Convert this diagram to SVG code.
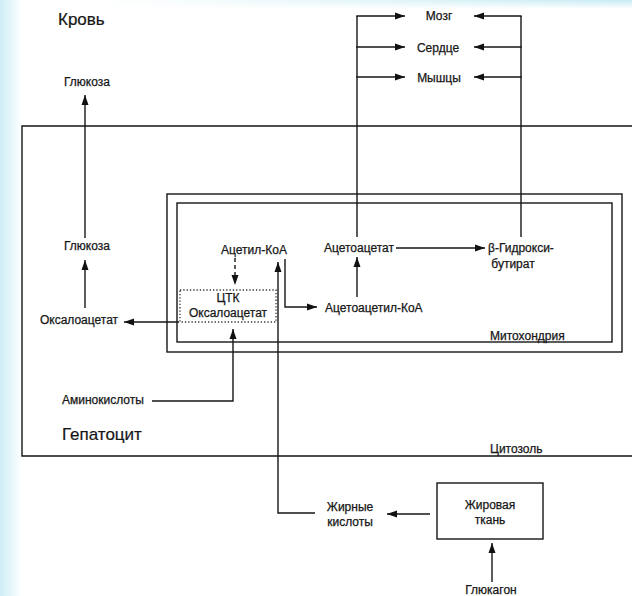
<svg xmlns="http://www.w3.org/2000/svg" width="632" height="596" viewBox="0 0 632 596">
<defs>
<linearGradient id="gl" x1="0" y1="0" x2="1" y2="0">
<stop offset="0" stop-color="#cdeef5"/>
<stop offset="1" stop-color="#ffffff"/>
</linearGradient>
<linearGradient id="gt" x1="0" y1="0" x2="1" y2="0">
<stop offset="0" stop-color="#ffffff"/>
<stop offset="1" stop-color="#c6ebf3"/>
</linearGradient>
<linearGradient id="gtv" x1="0" y1="0" x2="0" y2="1">
<stop offset="0" stop-color="#ffffff" stop-opacity="0"/>
<stop offset="1" stop-color="#ffffff"/>
</linearGradient>
<marker id="ah" markerUnits="userSpaceOnUse" markerWidth="10" markerHeight="8" refX="10" refY="4" orient="auto">
<path d="M0,0.5 L10,4 L0,7.5 z" fill="#111"/>
</marker>
<style>
.t{font-family:"Liberation Sans",Arial,sans-serif;font-size:12px;fill:#161616;stroke:#161616;stroke-width:0.25;}
.c{text-anchor:middle;}
.big{font-size:17px;stroke-width:0.2;}
.ln{fill:none;stroke:#161616;stroke-width:1.4;}
.ar{fill:none;stroke:#161616;stroke-width:1.4;marker-end:url(#ah);}
</style>
</defs>
<rect x="0" y="0" width="632" height="596" fill="#ffffff"/>
<rect x="0" y="0" width="22" height="596" fill="url(#gl)"/>
<rect x="100" y="0" width="532" height="9" fill="url(#gt)"/>
<rect x="100" y="0" width="532" height="9" fill="url(#gtv)"/>

<g id="hepatocyte">
<path class="ln" d="M632 126 H22 V456 H632"/>
<text class="t big" x="62" y="440">Гепатоцит</text>
<text class="t" x="490" y="453">Цитозоль</text>
</g>
<g id="mitochondrion">
<rect class="ln" x="167" y="194" width="455" height="158"/>
<rect class="ln" x="177" y="203" width="435" height="139"/>
<text class="t" x="490" y="340">Митохондрия</text>
</g>
<g id="blood">
<text class="t big" x="58" y="25">Кровь</text>
</g>
<g id="brain"><text class="t c" x="439" y="20">Мозг</text></g>
<g id="heart"><text class="t c" x="438" y="52">Сердце</text></g>
<g id="muscle"><text class="t c" x="439" y="82">Мышцы</text></g>
<g id="glucose-blood"><text class="t c" x="87" y="86">Глюкоза</text></g>
<g id="glucose-cell"><text class="t c" x="87" y="250">Глюкоза</text></g>
<g id="oxaloacetate-cyto"><text class="t c" x="79" y="324">Оксалоацетат</text></g>
<g id="tca">
<rect x="180" y="290" width="96" height="32" fill="none" stroke="#333" stroke-width="1.3" stroke-dasharray="1.3 2"/>
<text class="t c" x="228" y="302">ЦТК</text>
<text class="t c" x="228" y="317">Оксалоацетат</text>
</g>
<g id="acetyl-coa"><text class="t c" x="254" y="254">Ацетил-КоА</text></g>
<g id="acetoacetyl-coa"><text class="t" x="325" y="312">Ацетоацетил-КоА</text></g>
<g id="acetoacetate"><text class="t c" x="359" y="252">Ацетоацетат</text></g>
<g id="hydroxybutyrate">
<text class="t" x="488" y="252">β-Гидрокси-</text>
<text class="t c" x="513" y="268">бутират</text>
</g>
<g id="amino-acids"><text class="t" x="62" y="404">Аминокислоты</text></g>
<g id="fatty-acids">
<text class="t c" x="350" y="511">Жирные</text>
<text class="t c" x="350" y="526">кислоты</text>
</g>
<g id="adipose">
<rect class="ln" x="437" y="483" width="106" height="56"/>
<text class="t c" x="490" y="509">Жировая</text>
<text class="t c" x="490" y="524">ткань</text>
</g>
<g id="glucagon"><text class="t c" x="491" y="594">Глюкагон</text></g>

<g id="connectors">
<line class="ar" x1="85" y1="238" x2="85" y2="95"/>
<line class="ar" x1="85" y1="308" x2="85" y2="260"/>
<line class="ar" x1="179" y1="322" x2="124" y2="322"/>
<line class="ar" x1="235" y1="258" x2="235" y2="285" stroke-dasharray="4 3"/>
<path class="ar" d="M315 513 H278 V262"/>
<path class="ar" d="M285 259 V307 H317"/>
<line class="ar" x1="357" y1="297" x2="357" y2="257"/>
<line class="ar" x1="396" y1="248" x2="485" y2="248"/>
<path class="ln" d="M357 237 V16"/>
<line class="ar" x1="356.3" y1="16" x2="405" y2="16"/>
<line class="ar" x1="356.3" y1="47" x2="405" y2="47"/>
<line class="ar" x1="356.3" y1="77" x2="405" y2="77"/>
<path class="ln" d="M521 237 V16"/>
<line class="ar" x1="521.7" y1="16" x2="474" y2="16"/>
<line class="ar" x1="521.7" y1="47" x2="474" y2="47"/>
<line class="ar" x1="521.7" y1="77" x2="474" y2="77"/>
<path class="ar" d="M152 401 H233 V329"/>
<line class="ar" x1="430" y1="514" x2="387" y2="514"/>
<line class="ar" x1="492" y1="582" x2="492" y2="543"/>
</g>
</svg>
